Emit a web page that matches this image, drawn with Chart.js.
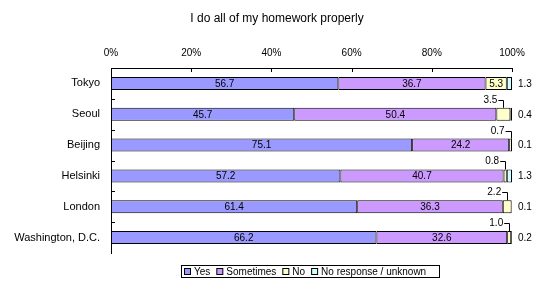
<!DOCTYPE html>
<html>
<head>
<meta charset="utf-8">
<script src="https://cdn.jsdelivr.net/npm/chart.js@4/dist/chart.umd.min.js"></script>
<style>
  html, body { margin: 0; padding: 0; background: #fff; }
  #wrap { position: relative; width: 547px; height: 289px; }
</style>
</head>
<body>
<div id="wrap"><canvas id="chart" width="547" height="289"></canvas></div>
<script>
// ---- data ----
const cities = ['Tokyo', 'Seoul', 'Beijing', 'Helsinki', 'London', 'Washington, D.C.'];
const yesVals = [56.7, 45.7, 75.1, 57.2, 61.4, 66.2];
const sometimesVals = [36.7, 50.4, 24.2, 40.7, 36.3, 32.6];
const noVals = [5.3, 3.5, 0.7, 0.8, 2.2, 1.0];
const unknownVals = [1.3, 0.4, 0.1, 1.3, 0.1, 0.2];
const xTicks = ['0%', '20%', '40%', '60%', '80%', '100%'];
const seriesNames = ['Yes', 'Sometimes', 'No', 'No response / unknown'];
const seriesColors = ['#9999FF', '#CC99FF', '#FFFFCC', '#CCFFFF'];
const chartTitle = 'I do all of my homework properly';

const FONT = '"Liberation Sans", Arial, sans-serif';

function ds(i, data) {
  return {
    label: seriesNames[i],
    data: data,
    backgroundColor: seriesColors[i],
    borderColor: '#000',
    borderWidth: 1,
    borderSkipped: false,
    barPercentage: 0.42,
    categoryPercentage: 1
  };
}

// title, inner tick marks, value labels and legend
const decor = {
  id: 'decor',
  afterDatasetsDraw(chart) {
    const ctx = chart.ctx;
    const xs = chart.scales.x, ys = chart.scales.y;
    const area = chart.chartArea;
    ctx.save();

    // title
    ctx.fillStyle = '#000';
    ctx.font = '12px ' + FONT;
    ctx.textAlign = 'center';
    ctx.textBaseline = 'middle';
    ctx.fillText(chartTitle, 277, 19);

    // inner ticks
    ctx.strokeStyle = '#000';
    ctx.lineWidth = 1;
    ctx.beginPath();
    for (let v = 20; v <= 100; v += 20) {
      const px = Math.round(xs.getPixelForValue(v)) + 0.5;
      ctx.moveTo(px, area.top);
      ctx.lineTo(px, area.top + 4);
    }
    for (let i = 1; i < cities.length; i++) {
      const py = Math.round((ys.getPixelForValue(i - 1) + ys.getPixelForValue(i)) / 2) + 0.5;
      ctx.moveTo(area.left, py);
      ctx.lineTo(area.left + 4, py);
    }
    ctx.stroke();

    // value labels
    ctx.font = '10px ' + FONT;
    const metas = [0, 1, 2, 3].map(i => chart.getDatasetMeta(i));
    cities.forEach((c, j) => {
      const yBar = metas[0].data[j];
      const cy = yBar.y;
      const top = cy - yBar.height / 2;
      // inside labels
      [yesVals, sometimesVals].forEach((arr, i) => {
        const el = metas[i].data[j];
        ctx.textAlign = 'center';
        ctx.fillText(arr[j].toFixed(1), (el.x + el.base) / 2, cy + 0.5);
      });
      // No
      const noEl = metas[2].data[j];
      const noMid = (noEl.x + noEl.base) / 2;
      if (noVals[j] >= 5) {
        ctx.textAlign = 'center';
        ctx.fillText(noVals[j].toFixed(1), noMid, cy + 0.5);
      } else {
        const ly = Math.round(top - 8) + 0.5;
        ctx.textAlign = 'right';
        ctx.fillText(noVals[j].toFixed(1), noMid - 6, ly);
        ctx.beginPath();
        ctx.moveTo(noMid - 5, ly);
        ctx.lineTo(Math.round(noMid) + 0.5, ly);
        ctx.lineTo(Math.round(noMid) + 0.5, top);
        ctx.stroke();
      }
      // No response
      ctx.textAlign = 'left';
      ctx.fillText(unknownVals[j].toFixed(1), area.right + 6, cy + 0.5);
    });

    // legend
    ctx.font = '10px ' + FONT;
    ctx.textAlign = 'left';
    const lx = 181, ly = 265, lw = 258, lh = 12;
    ctx.strokeRect(lx + 0.5, ly + 0.5, lw, lh);
    let x = lx + 3;
    seriesNames.forEach((n, i) => {
      ctx.fillStyle = seriesColors[i];
      ctx.fillRect(x + 0.5, ly + 3.5, 6, 6);
      ctx.strokeStyle = '#000';
      ctx.strokeRect(x + 0.5, ly + 3.5, 6, 6);
      ctx.fillStyle = '#000';
      ctx.fillText(n, x + 10, ly + 7);
      x += 10 + ctx.measureText(n).width + 6;
    });

    ctx.restore();
  }
};

new Chart(document.getElementById('chart'), {
  type: 'bar',
  data: {
    labels: cities,
    datasets: [ds(0, yesVals), ds(1, sometimesVals), ds(2, noVals), ds(3, unknownVals)]
  },
  options: {
    indexAxis: 'y',
    responsive: false,
    animation: false,
    layout: { padding: { top: 38, right: 35, bottom: 36, left: 0 } },
    plugins: {
      legend: { display: false },
      title: { display: false },
      tooltip: { enabled: false }
    },
    scales: {
      x: {
        position: 'top',
        stacked: true,
        min: 0,
        max: 100,
        grid: { display: false, drawTicks: false },
        border: { display: true, color: '#000', width: 1 },
        afterFit(scale) { scale.height = 30; },
        ticks: {
          stepSize: 20,
          padding: 9,
          color: '#000',
          font: { family: FONT, size: 10 },
          callback: (v, i) => xTicks[i]
        }
      },
      y: {
        stacked: true,
        grid: { display: false, drawTicks: false },
        border: { display: true, color: '#000', width: 1 },
        afterFit(scale) { scale.width = 111; },
        ticks: {
          padding: 11,
          color: '#000',
          font: { family: FONT, size: 11 }
        }
      }
    }
  },
  plugins: [decor]
});
</script>
</body>
</html>
